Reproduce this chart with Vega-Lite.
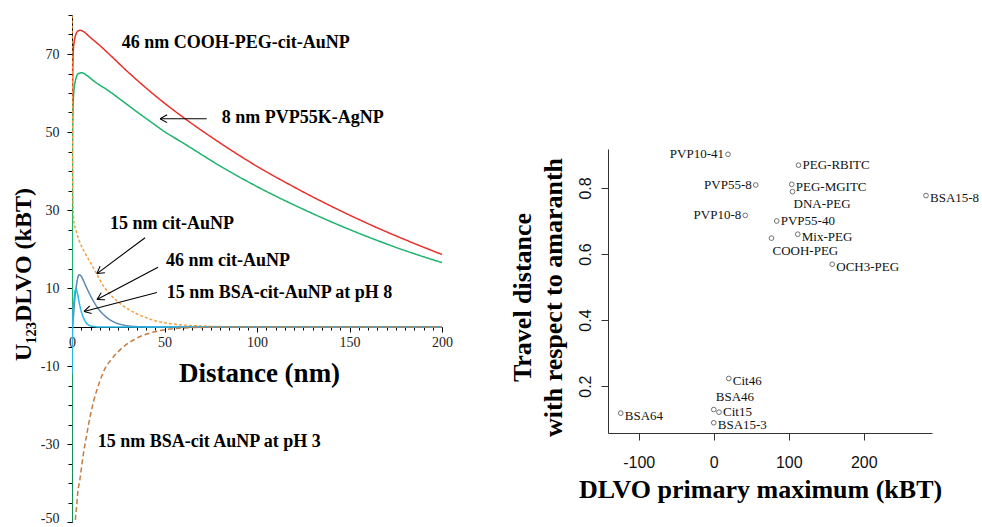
{
  "$schema": "https://vega.github.io/schema/vega-lite/v6.json",
  "padding": {"left": 11, "top": 14, "right": 5, "bottom": 0},
  "background": "#ffffff",
  "config": {"view": {"stroke": null}, "axis": {"grid": false, "labelOverlap": false}, "font": "Liberation Serif"},
  "datasets": {
    "curves": [
      {"s": "cooh46", "d": 0, "u": 20}, {"s": "cooh46", "d": 0.3, "u": 60}, {"s": "cooh46", "d": 0.7, "u": 70.8}, {"s": "cooh46", "d": 1.6, "u": 74.2}, {"s": "cooh46", "d": 3, "u": 75.8}, {"s": "cooh46", "d": 4.3, "u": 76.1}, {"s": "cooh46", "d": 6, "u": 75.8}, {"s": "cooh46", "d": 10, "u": 74.2}, {"s": "cooh46", "d": 15, "u": 72.2}, {"s": "cooh46", "d": 20, "u": 70}, {"s": "cooh46", "d": 30, "u": 65.5}, {"s": "cooh46", "d": 42, "u": 60.5}, {"s": "cooh46", "d": 50, "u": 57.4}, {"s": "cooh46", "d": 60, "u": 53.8}, {"s": "cooh46", "d": 80, "u": 47.2}, {"s": "cooh46", "d": 100, "u": 41.2}, {"s": "cooh46", "d": 120, "u": 35.9}, {"s": "cooh46", "d": 140, "u": 31}, {"s": "cooh46", "d": 160, "u": 26.5}, {"s": "cooh46", "d": 180, "u": 22.4}, {"s": "cooh46", "d": 200, "u": 18.6},
      {"s": "pvp8", "d": 0, "u": -50}, {"s": "pvp8", "d": 0.3, "u": 50}, {"s": "pvp8", "d": 0.8, "u": 59}, {"s": "pvp8", "d": 2, "u": 63.5}, {"s": "pvp8", "d": 3.5, "u": 65}, {"s": "pvp8", "d": 5.2, "u": 65.2}, {"s": "pvp8", "d": 8, "u": 64.5}, {"s": "pvp8", "d": 12, "u": 63}, {"s": "pvp8", "d": 20, "u": 60.5}, {"s": "pvp8", "d": 26, "u": 58.4}, {"s": "pvp8", "d": 35, "u": 55.2}, {"s": "pvp8", "d": 42, "u": 52.8}, {"s": "pvp8", "d": 50, "u": 50.1}, {"s": "pvp8", "d": 60, "u": 47.2}, {"s": "pvp8", "d": 80, "u": 41.3}, {"s": "pvp8", "d": 100, "u": 36}, {"s": "pvp8", "d": 120, "u": 31.3}, {"s": "pvp8", "d": 140, "u": 27}, {"s": "pvp8", "d": 160, "u": 23.1}, {"s": "pvp8", "d": 180, "u": 19.6}, {"s": "pvp8", "d": 200, "u": 16.5},
      {"s": "cit15", "d": 0, "u": 85}, {"s": "cit15", "d": 0.3, "u": 40}, {"s": "cit15", "d": 1, "u": 27}, {"s": "cit15", "d": 2, "u": 25}, {"s": "cit15", "d": 4, "u": 22}, {"s": "cit15", "d": 7, "u": 19}, {"s": "cit15", "d": 10, "u": 16.5}, {"s": "cit15", "d": 13.5, "u": 13.5}, {"s": "cit15", "d": 17, "u": 10.5}, {"s": "cit15", "d": 20, "u": 8.7}, {"s": "cit15", "d": 25, "u": 6.4}, {"s": "cit15", "d": 30, "u": 4.7}, {"s": "cit15", "d": 35, "u": 3.4}, {"s": "cit15", "d": 40, "u": 2.4}, {"s": "cit15", "d": 45, "u": 1.6}, {"s": "cit15", "d": 50, "u": 1.1}, {"s": "cit15", "d": 60, "u": 0.5}, {"s": "cit15", "d": 70, "u": 0.25}, {"s": "cit15", "d": 80, "u": 0.1}, {"s": "cit15", "d": 100, "u": 0.03}, {"s": "cit15", "d": 150, "u": 0}, {"s": "cit15", "d": 200, "u": 0},
      {"s": "cit46", "d": 0.3, "u": 0}, {"s": "cit46", "d": 1, "u": 4}, {"s": "cit46", "d": 1.6, "u": 7.6}, {"s": "cit46", "d": 2.5, "u": 11}, {"s": "cit46", "d": 3.8, "u": 13.4}, {"s": "cit46", "d": 5, "u": 13}, {"s": "cit46", "d": 7, "u": 11}, {"s": "cit46", "d": 9, "u": 9}, {"s": "cit46", "d": 11.5, "u": 6.7}, {"s": "cit46", "d": 14, "u": 4.8}, {"s": "cit46", "d": 17, "u": 3.2}, {"s": "cit46", "d": 20, "u": 2}, {"s": "cit46", "d": 23, "u": 1.2}, {"s": "cit46", "d": 26, "u": 0.7}, {"s": "cit46", "d": 30, "u": 0.3}, {"s": "cit46", "d": 35, "u": 0.1}, {"s": "cit46", "d": 45, "u": 0}, {"s": "cit46", "d": 200, "u": 0},
      {"s": "bsa15pH8", "d": 0, "u": -12}, {"s": "bsa15pH8", "d": 0.5, "u": 3}, {"s": "bsa15pH8", "d": 1, "u": 6.5}, {"s": "bsa15pH8", "d": 1.5, "u": 8.8}, {"s": "bsa15pH8", "d": 2.1, "u": 9.8}, {"s": "bsa15pH8", "d": 3, "u": 8.5}, {"s": "bsa15pH8", "d": 4, "u": 6}, {"s": "bsa15pH8", "d": 5, "u": 4}, {"s": "bsa15pH8", "d": 6, "u": 2.6}, {"s": "bsa15pH8", "d": 7, "u": 1.6}, {"s": "bsa15pH8", "d": 8, "u": 0.9}, {"s": "bsa15pH8", "d": 10, "u": 0.3}, {"s": "bsa15pH8", "d": 12, "u": 0.1}, {"s": "bsa15pH8", "d": 15, "u": 0}, {"s": "bsa15pH8", "d": 200, "u": 0},
      {"s": "bsa15pH3", "d": 1.2, "u": -70}, {"s": "bsa15pH3", "d": 1.8, "u": -50}, {"s": "bsa15pH3", "d": 2.5, "u": -46}, {"s": "bsa15pH3", "d": 3, "u": -43}, {"s": "bsa15pH3", "d": 4.3, "u": -39}, {"s": "bsa15pH3", "d": 6, "u": -33}, {"s": "bsa15pH3", "d": 8, "u": -27.5}, {"s": "bsa15pH3", "d": 10, "u": -22.5}, {"s": "bsa15pH3", "d": 12, "u": -18.5}, {"s": "bsa15pH3", "d": 15, "u": -14}, {"s": "bsa15pH3", "d": 18, "u": -10.5}, {"s": "bsa15pH3", "d": 21, "u": -8.5}, {"s": "bsa15pH3", "d": 24, "u": -6.8}, {"s": "bsa15pH3", "d": 28, "u": -5}, {"s": "bsa15pH3", "d": 33, "u": -3.4}, {"s": "bsa15pH3", "d": 38, "u": -2.2}, {"s": "bsa15pH3", "d": 44, "u": -1.3}, {"s": "bsa15pH3", "d": 50, "u": -0.7}, {"s": "bsa15pH3", "d": 60, "u": -0.25}, {"s": "bsa15pH3", "d": 70, "u": -0.1}, {"s": "bsa15pH3", "d": 80, "u": 0}, {"s": "bsa15pH3", "d": 200, "u": 0}
    ],
    "arrows": [
      {"d": 72.8, "u": 53.4, "d2": 47.6, "u2": 53.4},
      {"d": 47.6, "u": 53.4, "d2": 51.4, "u2": 54.4},
      {"d": 47.6, "u": 53.4, "d2": 51.4, "u2": 52.4},
      {"d": 39.5, "u": 22.9, "d2": 13.5, "u2": 13.7},
      {"d": 13.5, "u": 13.7, "d2": 17.8, "u2": 13.9},
      {"d": 13.5, "u": 13.7, "d2": 15.2, "u2": 15.6},
      {"d": 46.5, "u": 15.3, "d2": 13.5, "u2": 7.05},
      {"d": 13.5, "u": 7.05, "d2": 17.8, "u2": 7.0},
      {"d": 13.5, "u": 7.05, "d2": 15.8, "u2": 8.8},
      {"d": 45.9, "u": 8.85, "d2": 6.5, "u2": 3.97},
      {"d": 6.5, "u": 3.97, "d2": 10.6, "u2": 3.44},
      {"d": 6.5, "u": 3.97, "d2": 9.6, "u2": 5.4}
    ],
    "notes": [
      {"d": 26.9, "u": 72.8, "t": "46 nm COOH-PEG-cit-AuNP"},
      {"d": 80.9, "u": 53.6, "t": "8 nm PVP55K-AgNP"},
      {"d": 20.5, "u": 26.3, "t": "15 nm cit-AuNP"},
      {"d": 50.8, "u": 17, "t": "46 nm cit-AuNP"},
      {"d": 51.2, "u": 8.8, "t": "15 nm BSA-cit-AuNP at pH 8"},
      {"d": 13.9, "u": -29.5, "t": "15 nm BSA-cit AuNP at pH 3"}
    ],
    "np": [
      {"name": "PVP10-41", "dlvo": 19, "travel": 0.902},
      {"name": "PEG-RBITC", "dlvo": 113, "travel": 0.869},
      {"name": "PVP55-8", "dlvo": 56, "travel": 0.809},
      {"name": "PEG-MGITC", "dlvo": 104, "travel": 0.811},
      {"name": "DNA-PEG", "dlvo": 105, "travel": 0.789},
      {"name": "BSA15-8", "dlvo": 283, "travel": 0.777},
      {"name": "PVP10-8", "dlvo": 42, "travel": 0.717},
      {"name": "PVP55-40", "dlvo": 84, "travel": 0.7},
      {"name": "Mix-PEG", "dlvo": 112, "travel": 0.66},
      {"name": "COOH-PEG", "dlvo": 77, "travel": 0.648},
      {"name": "OCH3-PEG", "dlvo": 158, "travel": 0.569},
      {"name": "Cit46", "dlvo": 20, "travel": 0.223},
      {"name": "BSA46", "dlvo": 0, "travel": 0.129},
      {"name": "Cit15", "dlvo": 7, "travel": 0.121},
      {"name": "BSA15-3", "dlvo": 0, "travel": 0.089},
      {"name": "BSA64", "dlvo": -124, "travel": 0.118}
    ]
  },
  "bounds": "flush",
  "spacing": 166,
  "hconcat": [
    {
      "width": 370,
      "height": 507,
      "resolve": {"axis": {"x": "independent", "y": "independent"}},
      "layer": [
        {
          "data": {"name": "curves"},
          "mark": {"type": "line", "clip": true, "strokeWidth": 1.5, "interpolate": "monotone"},
          "encoding": {
            "x": {"field": "d", "type": "quantitative", "scale": {"domain": [0, 200], "nice": false, "zero": false},
              "axis": {"orient": "bottom", "values": [0, 50, 100, 150, 200], "labelOverlap": false, "labelFlush": false,
                "offset": -195, "domainColor": "#000", "tickColor": "#000", "tickSize": 5, "labelFont": "Liberation Serif", "labelFontSize": 14, "labelColor": "#222", "labelPadding": 3,
                "title": "Distance (nm)", "titleFont": "Liberation Serif", "titleFontSize": 27, "titleFontWeight": "bold", "titleColor": "#000", "titleX": 187, "titleY": 46, "titleBaseline": "middle"}},
            "y": {"field": "u", "type": "quantitative", "scale": {"domain": [-50, 80], "nice": false, "zero": false},
              "axis": {"orient": "left", "values": [-50, -30, -10, 10, 30, 50, 70],
                "labelExpr": "replace(datum.label, '\u2212', '-')", "labelOverlap": false, "labelFlush": true, "labelFlushOffset": 3,
                "domainColor": "#000", "tickColor": "#000", "tickSize": 5, "labelFont": "Liberation Serif", "labelFontSize": 14, "labelColor": "#222", "labelPadding": 8,
                "title": "U₁₂₃DLVO (kBT)", "titleFont": "Liberation Serif", "titleFontSize": 24, "titleFontWeight": "bold", "titleColor": "#000", "titleAngle": -90, "titleX": -49, "titleY": 259, "titleBaseline": "middle", "titleAlign": "center"}},
            "color": {"field": "s", "type": "nominal", "legend": null,
              "scale": {"domain": ["cit15", "bsa15pH3", "cit46", "bsa15pH8", "cooh46", "pvp8"], "range": ["#f4a046", "#c27c44", "#5d88b2", "#27b8e8", "#e8302a", "#1db36c"]}},
            "strokeDash": {"field": "s", "type": "nominal", "legend": null,
              "scale": {"domain": ["cit15", "bsa15pH3", "cit46", "bsa15pH8", "cooh46", "pvp8"], "range": [[3, 2], [5, 3], [1, 0], [1, 0], [1, 0], [1, 0]]}}
          }
        },
        {
          "data": {"name": "arrows"},
          "mark": {"type": "rule", "color": "#000", "strokeWidth": 1.1},
          "encoding": {
            "x": {"field": "d", "type": "quantitative", "scale": {"domain": [0, 200], "nice": false, "zero": false},
              "axis": {"orient": "bottom", "offset": -195, "values": [5,10,15,20,25,30,35,40,45,55,60,65,70,75,80,85,90,95,105,110,115,120,125,130,135,140,145,155,160,165,170,175,180,185,190,195],
                "labels": false, "domain": false, "tickSize": 3, "tickColor": "#000", "title": null}},
            "y": {"field": "u", "type": "quantitative", "scale": {"domain": [-50, 80], "nice": false, "zero": false},
              "axis": {"orient": "left", "values": [-45,-40,-35,-25,-20,-15,-5,0,5,15,20,25,35,40,45,55,60,65,75,80],
                "labels": false, "domain": false, "tickSize": 4, "tickColor": "#000", "title": null}},
            "x2": {"field": "d2"},
            "y2": {"field": "u2"}
          }
        },
        {
          "data": {"name": "notes"},
          "mark": {"type": "text", "align": "left", "baseline": "middle", "font": "Liberation Serif", "fontSize": 18, "fontWeight": "bold", "color": "#000"},
          "encoding": {
            "x": {"field": "d", "type": "quantitative", "scale": {"domain": [0, 200], "nice": false, "zero": false}, "axis": null},
            "y": {"field": "u", "type": "quantitative", "scale": {"domain": [-50, 80], "nice": false, "zero": false}, "axis": null},
            "text": {"field": "t"}
          }
        }
      ]
    },
    {
      "bounds": "flush",
      "spacing": 0,
      "vconcat": [
        {"width": 324, "height": 134, "data": {"values": [{"a": 1}]}, "mark": {"type": "point", "opacity": 0}, "encoding": {}},
        {
          "width": 324,
          "height": 284,
          "data": {"name": "np"},
          "encoding": {
            "x": {"field": "dlvo", "type": "quantitative", "scale": {"domain": [-141, 291], "nice": false, "zero": false},
              "axis": {"values": [-100, 0, 100, 200], "labelExpr": "replace(datum.label, '\u2212', '-')", "labelFlush": false, "labelOverlap": false,
                "domainColor": "#333", "tickColor": "#333", "tickSize": 7, "labelFont": "Liberation Sans", "labelFontSize": 16, "labelColor": "#111", "labelPadding": 14,
                "title": "DLVO primary maximum (kBT)", "titleFont": "Liberation Serif", "titleFontSize": 26, "titleFontWeight": "bold", "titleColor": "#000", "titleX": 152, "titleY": 56, "titleBaseline": "middle"}},
            "y": {"field": "travel", "type": "quantitative", "scale": {"domain": [0.058, 0.918], "nice": false, "zero": false},
              "axis": {"values": [0.2, 0.4, 0.6, 0.8], "format": ".1f", "labelAngle": -90, "labelAlign": "center", "labelBaseline": "middle", "labelFlush": false, "labelOverlap": false,
                "domainColor": "#333", "tickColor": "#333", "tickSize": 7, "labelFont": "Liberation Sans", "labelFontSize": 16, "labelColor": "#111", "labelPadding": 16,
                "title": ["Travel distance", "with respect to amaranth"], "titleFont": "Liberation Serif", "titleFontSize": 26, "titleFontWeight": "bold", "titleColor": "#000", "titleLineHeight": 31, "titleAngle": -90, "titleX": -86, "titleY": 148, "titleBaseline": "middle", "titleAlign": "center"}}
          },
          "layer": [
            {"mark": {"type": "point", "shape": "circle", "filled": false, "size": 22, "stroke": "#707070", "strokeWidth": 1, "opacity": 1}},
            {"transform": [{"filter": {"field": "name", "oneOf": ["PEG-MGITC", "BSA15-8", "Mix-PEG", "OCH3-PEG", "Cit46", "BSA15-3", "BSA64"]}}],
             "mark": {"type": "text", "align": "left", "baseline": "middle", "dx": 4, "dy": 2.5, "font": "Liberation Serif", "fontSize": 13, "color": "#111"},
             "encoding": {"text": {"field": "name"}}},
            {"transform": [{"filter": {"field": "name", "oneOf": ["PEG-RBITC", "Cit15", "PVP55-40"]}}],
             "mark": {"type": "text", "align": "left", "baseline": "middle", "dx": 4, "dy": 0, "font": "Liberation Serif", "fontSize": 13, "color": "#111"},
             "encoding": {"text": {"field": "name"}}},
            {"transform": [{"filter": {"field": "name", "oneOf": ["PVP10-41", "PVP55-8", "PVP10-8"]}}],
             "mark": {"type": "text", "align": "right", "baseline": "middle", "dx": -4, "dy": 0, "font": "Liberation Serif", "fontSize": 13, "color": "#111"},
             "encoding": {"text": {"field": "name"}}},
            {"transform": [{"filter": {"field": "name", "oneOf": ["DNA-PEG", "COOH-PEG"]}}],
             "mark": {"type": "text", "align": "left", "baseline": "middle", "dx": 1, "dy": 12.5, "font": "Liberation Serif", "fontSize": 13, "color": "#111"},
             "encoding": {"text": {"field": "name"}}},
            {"transform": [{"filter": {"field": "name", "oneOf": ["BSA46"]}}],
             "mark": {"type": "text", "align": "left", "baseline": "middle", "dx": 2, "dy": -13, "font": "Liberation Serif", "fontSize": 13, "color": "#111"},
             "encoding": {"text": {"field": "name"}}}
          ]
        }
      ]
    }
  ]
}
